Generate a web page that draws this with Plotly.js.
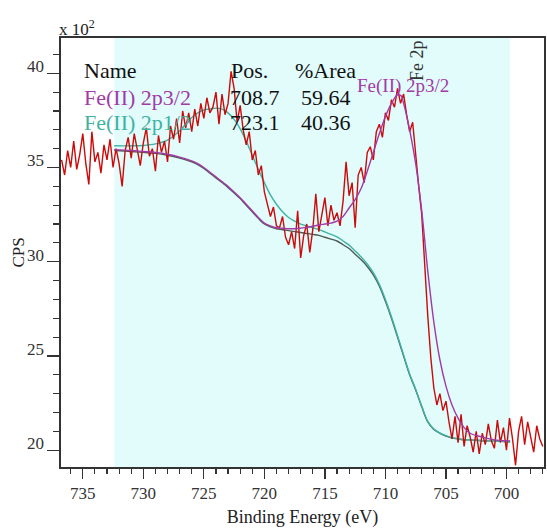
<!DOCTYPE html>
<html><head><meta charset="utf-8">
<script src="https://cdn.plot.ly/plotly-3.0.1.min.js"></script>
<style>html,body{margin:0;padding:0;background:#fff}#chart{width:547px;height:529px}</style>
</head><body><div id="chart"></div>
<script>
// Raw spectrum (CPS / 100), evenly stepped from 736.75 eV down to 697.0 eV
const rawStartEnergy = 736.75;
const rawEnergyStep = -0.25;
const rawCounts = [
  35.4,34.6,35.9,35.0,36.4,34.9,35.7,36.8,35.2,34.1,36.9,35.3,35.8,34.7,36.2,35.4,36.5,35.0,
  36.0,35.2,34.0,35.9,36.6,35.5,36.8,35.9,35.1,36.3,37.1,35.6,36.0,34.8,36.7,35.8,36.4,35.3,37.2,36.5,37.6,36.3,38.0,37.1,37.9,36.9,
  38.1,37.2,38.4,37.6,38.7,37.9,38.2,39.0,37.3,38.9,37.8,38.4,40.1,39.2,37.4,38.3,37.0,36.2,36.9,35.4,
  35.9,34.6,35.1,33.7,33.0,32.4,32.9,31.9,
  31.8,32.4,31.3,30.9,31.6,30.7,32.7,30.2,31.4,32.0,30.5,31.7,33.6,31.6,32.5,33.4,31.9,33.0,32.2,
  32.6,31.9,33.2,35.3,33.5,34.2,31.8,34.6,35.0,34.2,35.8,36.1,35.4,36.9,37.3,36.6,37.9,37.5,38.6,38.2,
  39.2,38.4,38.9,37.8,36.9,37.4,35.6,34.0,32.5,29.6,27.1,24.9,23.3,22.4,23.0,22.1,22.6,21.5,20.6,21.8,
  20.4,21.9,20.2,21.3,20.7,19.9,21.0,19.8,20.9,20.3,21.4,20.5,20.1,21.6,20.4,21.2,20.0,21.7,20.6,19.2,
  21.0,21.8,20.3,21.5,20.7,19.9,21.3,20.6,20.2
];

// Fit region curves (CPS / 100)
const fitEnergy = [732.4,731,730,729,728,727,726,725.5,725,724.5,724,723.5,723.1,722.5,722,721.5,721,720.5,720,719.5,719,718.5,718,717.5,717,716.5,716,715.5,715,714.5,714,713.5,713,712.5,712,711.5,711,710.5,710,709.5,709,708.7,708.5,708,707.5,707,706.5,706,705.5,705,704.5,704,703.5,703,702,701,700,699.7];
const backgroundCounts = [35.9,35.85,35.8,35.75,35.65,35.5,35.3,35.15,34.95,34.7,34.45,34.2,34.0,33.65,33.35,33.0,32.65,32.3,32.0,31.85,31.75,31.7,31.65,31.6,31.55,31.5,31.45,31.4,31.3,31.2,31.1,30.9,30.7,30.4,30.1,29.75,29.3,28.7,27.9,27.0,26.0,25.4,25.0,24.0,23.2,22.3,21.5,21.1,20.9,20.75,20.65,20.6,20.55,20.55,20.5,20.5,20.45,20.45];
const fe2p32Counts = [35.95,35.9,35.85,35.8,35.7,35.55,35.35,35.2,35.0,34.75,34.5,34.25,34.05,33.7,33.4,33.05,32.7,32.35,32.05,31.9,31.8,31.78,31.75,31.75,31.78,31.82,31.88,31.95,32.0,32.05,32.15,32.4,32.85,33.3,33.9,34.8,35.8,36.8,37.7,38.4,38.85,38.8,38.4,37.0,35.2,32.7,29.5,26.8,24.8,23.4,22.4,21.7,21.2,20.9,20.7,20.55,20.5,20.5];
const fe2p12Counts = [36.15,36.15,36.17,36.25,36.45,36.95,37.65,37.9,38.05,38.1,38.15,38.1,37.95,37.55,37.05,36.4,35.65,34.9,34.2,33.55,33.05,32.65,32.35,32.15,32.0,31.9,31.8,31.7,31.58,31.45,31.32,31.1,30.88,30.57,30.25,29.88,29.42,28.8,28.0,27.08,26.07,25.46,25.06,24.05,23.24,22.34,21.53,21.13,20.92,20.77,20.66,20.61,20.56,20.55,20.5,20.5,20.45,20.45];

const componentNames = ['Fe(II) 2p3/2', 'Fe(II) 2p1/2'];
const componentPos = [708.7, 723.1];
const componentArea = [59.64, 40.36];
const regionLimits = [732.4, 699.7];

const FONT = 'Liberation Serif, Times New Roman, serif';
const PURPLE = '#a23aa6';
const TEAL = '#3fb3a3';
const AX = '#333333';

// pixel -> paper helpers for the plot frame (left 61, right 544, top 38, bottom 467)
const L = 61, R = 544, T = 38, B = 467;
const px = v => (v - L) / (R - L);
const py = v => (B - v) / (B - T);

const traces = [
  {x: fitEnergy, y: backgroundCounts, type: 'scatter', mode: 'lines', line: {color: '#4d5c52', width: 1.4, shape: 'spline'}},
  {x: fitEnergy, y: fe2p12Counts, type: 'scatter', mode: 'lines', line: {color: TEAL, width: 1.4, shape: 'spline'}},
  {x0: rawStartEnergy, dx: rawEnergyStep, y: rawCounts, type: 'scatter', mode: 'lines', line: {color: '#cc0a0a', width: 1.4}},
  {x: fitEnergy, y: fe2p32Counts, type: 'scatter', mode: 'lines', line: {color: PURPLE, width: 1.4, shape: 'spline'}}
];

const ann = [];
function txt(text, x, y, color, size, extra) {
  ann.push(Object.assign({text: text, xref: 'paper', yref: 'paper', x: px(x), y: py(y), xanchor: 'left', yanchor: 'middle', showarrow: false, font: {family: FONT, size: size, color: color}}, extra || {}));
}
txt('Name', 82, 71, '#111', 22);
txt('Pos.', 229, 71, '#111', 22);
txt('%Area', 293, 71, '#111', 22);
const rowY = [97, 122];
const rowColor = [PURPLE, TEAL];
componentNames.forEach((n, i) => {
  txt(n, 82, rowY[i], rowColor[i], 22);
  txt(componentPos[i].toFixed(1), 228, rowY[i], '#111', 22);
  txt(componentArea[i].toFixed(2), 299, rowY[i], '#111', 22);
});
txt('x 10<sup>2</sup>', 57, 28, '#222', 17);
ann.push({text: componentNames[0], xref: 'x', yref: 'paper', x: componentPos[0] - 0.15, y: py(86), xanchor: 'center', yanchor: 'middle', showarrow: false, font: {family: FONT, size: 19, color: PURPLE}});
ann.push({text: 'Fe 2p', xref: 'paper', yref: 'paper', x: px(417), y: py(61), xanchor: 'center', yanchor: 'middle', textangle: -90, showarrow: false, font: {family: FONT, size: 18, color: '#333'}});
ann.push({text: 'CPS', xref: 'paper', yref: 'paper', x: px(18), y: 0.5, xanchor: 'center', yanchor: 'middle', textangle: -90, showarrow: false, font: {family: FONT, size: 17, color: '#222'}});

const layout = {
  width: 547, height: 529,
  margin: {l: L, r: 547 - R, t: T, b: 529 - B},
  paper_bgcolor: '#fff', plot_bgcolor: '#fff',
  showlegend: false,
  font: {family: FONT, color: AX},
  xaxis: {
    range: [736.8, 696.9], tick0: 700, dtick: 5,
    ticks: 'outside', ticklen: 10, tickwidth: 1.3, tickcolor: AX,
    minor: {dtick: 1, ticks: 'outside', ticklen: 5, tickwidth: 1.2, tickcolor: AX, showgrid: false},
    showline: true, linecolor: AX, linewidth: 1.6, mirror: true,
    showgrid: false, zeroline: false,
    tickfont: {family: FONT, size: 17, color: AX},
    title: {text: 'Binding Energy (eV)', font: {family: FONT, size: 18, color: '#222'}, standoff: 8}
  },
  yaxis: {
    range: [19.11, 41.87], tick0: 0, dtick: 5,
    ticks: 'outside', ticklen: 12, tickwidth: 1.3, tickcolor: AX,
    minor: {dtick: 1, ticks: 'outside', ticklen: 6, tickwidth: 1.2, tickcolor: AX, showgrid: false},
    showline: true, linecolor: AX, linewidth: 1.6, mirror: true,
    showgrid: false, zeroline: false,
    ticklabelshift: -7,
    tickfont: {family: FONT, size: 17, color: AX}
  },
  shapes: [{type: 'rect', xref: 'x', yref: 'paper', x0: regionLimits[0], x1: regionLimits[1], y0: 0, y1: 1, fillcolor: '#e2fcfc', line: {width: 0}, layer: 'below'}],
  annotations: ann
};

Plotly.newPlot('chart', traces, layout, {staticPlot: true, displayModeBar: false});
</script>
</body></html>
